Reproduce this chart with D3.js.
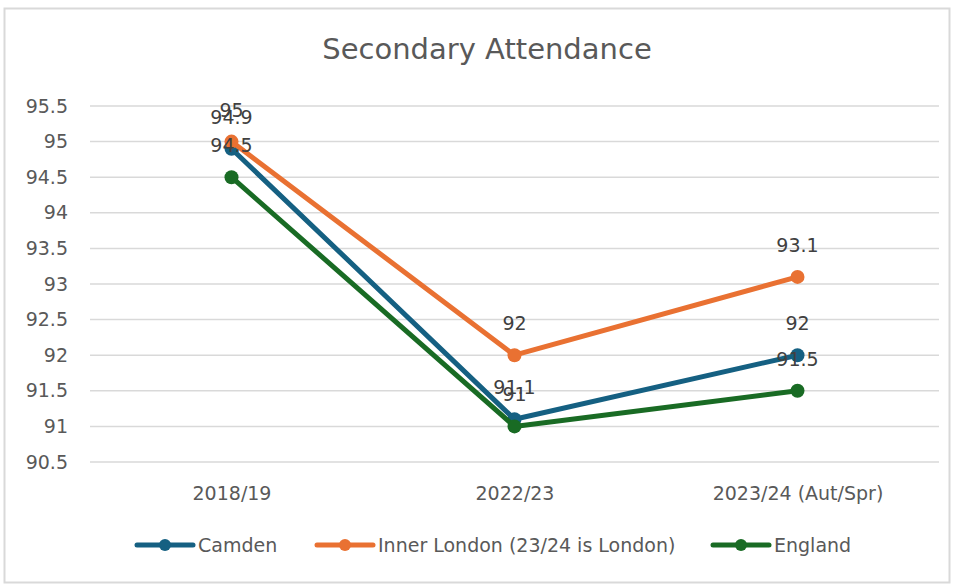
<!DOCTYPE html>
<html><head><meta charset="utf-8">
<script src="https://cdn.jsdelivr.net/npm/d3@7"></script>
<style>
body{margin:0;background:#fff;}
text{font-family:"DejaVu Sans",sans-serif;}
</style></head>
<body><svg id="c" width="958" height="588"></svg>
<script>
const categories = ["2018/19","2022/23","2023/24 (Aut/Spr)"];
const seriesNames = ["Camden","Inner London (23/24 is London)","England"];
const camden = [94.9, 91.1, 92];
const innerLondon = [95, 92, 93.1];
const england = [94.5, 91, 91.5];
const yTicks = [90.5,91,91.5,92,92.5,93,93.5,94,94.5,95,95.5];
const colors = ["#156082","#E97132","#196B24"];

const series = [camden, innerLondon, england].map((v,i)=>({name:seriesNames[i], values:v, color:colors[i]}));

const svg = d3.select("#c");
svg.append("rect").attr("x",4.5).attr("y",8.5).attr("width",945).attr("height",574)
  .attr("fill","#fff").attr("stroke","#d9d9d9").attr("stroke-width",2);

const x = d3.scalePoint().domain(categories).range([90,939]).padding(0.5);
const y = d3.scaleLinear().domain([90.5,95.5]).range([462,106]);

svg.append("text").attr("x",487).attr("y",59).attr("text-anchor","middle")
  .attr("font-size",29).attr("fill","#595959").text("Secondary Attendance");

// gridlines
svg.append("g").selectAll("line").data(yTicks).join("line")
  .attr("x1",90).attr("x2",939).attr("y1",d=>y(d)).attr("y2",d=>y(d))
  .attr("stroke","#d9d9d9").attr("stroke-width",1.5);

// y axis
const yAxis = svg.append("g").attr("transform","translate(68,0)")
  .call(d3.axisLeft(y).tickValues(yTicks).tickSize(0).tickPadding(0).tickFormat(d=>String(d)));
yAxis.select(".domain").remove();
yAxis.selectAll("text").attr("font-size",19).attr("fill","#595959")
  .style("font-family","'DejaVu Sans',sans-serif");

// x axis
const xAxis = svg.append("g").attr("transform","translate(0,462)")
  .call(d3.axisBottom(x).tickSize(0).tickPadding(0));
xAxis.select(".domain").remove();
xAxis.selectAll("text").attr("font-size",19).attr("fill","#595959").attr("dy",null).attr("y",38)
  .style("font-family","'DejaVu Sans',sans-serif");

const line = d3.line().x((d,i)=>x(categories[i])).y(d=>y(d));

series.forEach(s=>{
  svg.append("path").datum(s.values).attr("d",line).attr("fill","none")
    .attr("stroke",s.color).attr("stroke-width",5).attr("stroke-linejoin","round");
  svg.append("g").selectAll("circle").data(s.values).join("circle")
    .attr("cx",(d,i)=>x(categories[i])).attr("cy",d=>y(d)).attr("r",7).attr("fill",s.color);
});
series.forEach(s=>{
  svg.append("g").selectAll("text").data(s.values).join("text")
    .attr("x",(d,i)=>x(categories[i])).attr("y",d=>y(d)-25)
    .attr("text-anchor","middle").attr("font-size",19).attr("fill","#404040")
    .text(d=>String(d));
});

// legend
const legendX = [137, 317, 713];
const lg = svg.append("g");
series.forEach((s,i)=>{
  const g = lg.append("g").attr("transform",`translate(${legendX[i]},545)`);
  g.append("line").attr("x1",0).attr("x2",56).attr("stroke",s.color).attr("stroke-width",5).attr("stroke-linecap","round");
  g.append("circle").attr("cx",28).attr("r",6).attr("fill",s.color);
  g.append("text").attr("x",61).attr("y",0).attr("dy","0.35em").attr("font-size",19).attr("fill","#595959").text(s.name);
});
</script></body></html>
